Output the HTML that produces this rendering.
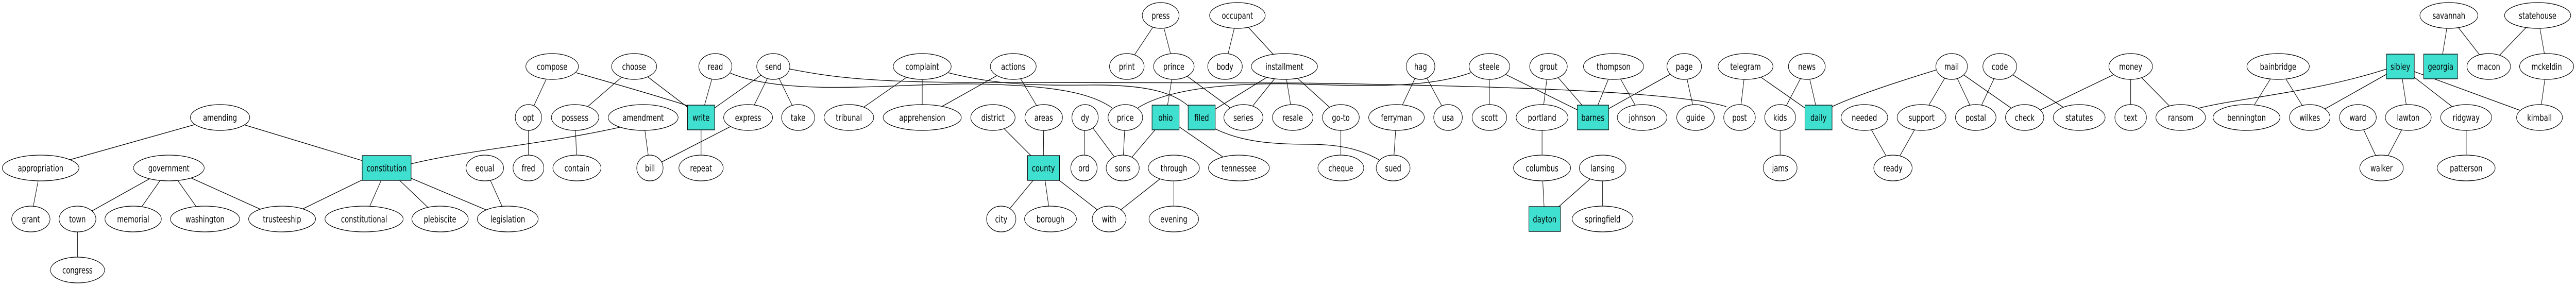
<!DOCTYPE html>
<html><head><meta charset="utf-8"><style>
html,body{margin:0;padding:0;background:#fff;width:100%;height:100%;overflow:hidden;}
svg{display:block;width:100vw;height:100vh}
ellipse,rect{stroke:#000;stroke-width:1.3}
ellipse{fill:#fff}
rect{fill:#40E0D0}
text{font-family:"DejaVu Sans","Liberation Sans",sans-serif;font-size:18px;text-anchor:middle;dominant-baseline:central;fill:#000}
line,path{stroke:#000;stroke-width:1.3;fill:none}
</style></head><body>
<svg viewBox="0 0 6849 555" preserveAspectRatio="none" xmlns="http://www.w3.org/2000/svg">
<g>
<line x1="585" y1="228" x2="108" y2="326"/>
<line x1="585" y1="228" x2="1028" y2="326"/>
<line x1="108" y1="326" x2="82" y2="425"/>
<line x1="449" y1="326" x2="206" y2="425"/>
<line x1="449" y1="326" x2="354" y2="425"/>
<line x1="449" y1="326" x2="545" y2="425"/>
<line x1="449" y1="326" x2="750" y2="425"/>
<line x1="206" y1="425" x2="206" y2="524"/>
<line x1="1028" y1="326" x2="750" y2="425"/>
<line x1="1028" y1="326" x2="968" y2="425"/>
<line x1="1028" y1="326" x2="1170" y2="425"/>
<line x1="1028" y1="326" x2="1350" y2="425"/>
<line x1="1289" y1="326" x2="1350" y2="425"/>
<line x1="1468" y1="129" x2="1405" y2="228"/>
<line x1="1686" y1="129" x2="1529" y2="228"/>
<line x1="1686" y1="129" x2="1864" y2="228"/>
<line x1="1902" y1="129" x2="1864" y2="228"/>
<line x1="2056" y1="129" x2="1864" y2="228"/>
<line x1="2056" y1="129" x2="1989" y2="228"/>
<line x1="2056" y1="129" x2="2122" y2="228"/>
<line x1="1405" y1="228" x2="1405" y2="326"/>
<line x1="1529" y1="228" x2="1534" y2="326"/>
<line x1="1710" y1="228" x2="1728" y2="326"/>
<line x1="1989" y1="228" x2="1728" y2="326"/>
<line x1="1864" y1="228" x2="1864" y2="326"/>
<line x1="2452" y1="129" x2="2257" y2="228"/>
<line x1="2452" y1="129" x2="2452" y2="228"/>
<line x1="2694" y1="129" x2="2452" y2="228"/>
<line x1="2694" y1="129" x2="2775" y2="228"/>
<line x1="3086" y1="30" x2="2996" y2="129"/>
<line x1="3086" y1="30" x2="3121" y2="129"/>
<line x1="3290" y1="30" x2="3257" y2="129"/>
<line x1="3290" y1="30" x2="3415" y2="129"/>
<line x1="3121" y1="129" x2="3099" y2="228"/>
<line x1="3121" y1="129" x2="3306" y2="228"/>
<line x1="3415" y1="129" x2="3195" y2="228"/>
<line x1="3415" y1="129" x2="3306" y2="228"/>
<line x1="3415" y1="129" x2="3437" y2="228"/>
<line x1="3415" y1="129" x2="3565" y2="228"/>
<line x1="2640" y1="228" x2="2774" y2="326"/>
<line x1="2775" y1="228" x2="2774" y2="326"/>
<line x1="2885" y1="228" x2="2882" y2="326"/>
<line x1="2885" y1="228" x2="2985" y2="326"/>
<line x1="2992" y1="228" x2="2985" y2="326"/>
<line x1="3099" y1="228" x2="2985" y2="326"/>
<line x1="3099" y1="228" x2="3294" y2="326"/>
<line x1="2774" y1="326" x2="2662" y2="425"/>
<line x1="2774" y1="326" x2="2793" y2="425"/>
<line x1="2774" y1="326" x2="2949" y2="425"/>
<line x1="3121" y1="326" x2="2949" y2="425"/>
<line x1="3121" y1="326" x2="3121" y2="425"/>
<line x1="3777" y1="129" x2="3713" y2="228"/>
<line x1="3777" y1="129" x2="3850" y2="228"/>
<line x1="3960" y1="129" x2="3960" y2="228"/>
<line x1="3960" y1="129" x2="4235" y2="228"/>
<line x1="4117" y1="129" x2="4100" y2="228"/>
<line x1="4117" y1="129" x2="4235" y2="228"/>
<line x1="4290" y1="129" x2="4235" y2="228"/>
<line x1="4290" y1="129" x2="4366" y2="228"/>
<line x1="4478" y1="129" x2="4235" y2="228"/>
<line x1="4478" y1="129" x2="4508" y2="228"/>
<line x1="3565" y1="228" x2="3565" y2="326"/>
<line x1="3713" y1="228" x2="3704" y2="326"/>
<line x1="4100" y1="228" x2="4100" y2="326"/>
<line x1="4100" y1="326" x2="4107" y2="425"/>
<line x1="4261" y1="326" x2="4107" y2="425"/>
<line x1="4261" y1="326" x2="4261" y2="425"/>
<line x1="4641" y1="129" x2="4625" y2="228"/>
<line x1="4641" y1="129" x2="4835" y2="228"/>
<line x1="4804" y1="129" x2="4733" y2="228"/>
<line x1="4804" y1="129" x2="4835" y2="228"/>
<line x1="4733" y1="228" x2="4733" y2="326"/>
<line x1="5189" y1="129" x2="5109" y2="228"/>
<line x1="5189" y1="129" x2="5253" y2="228"/>
<line x1="5189" y1="129" x2="5383" y2="228"/>
<line x1="5317" y1="129" x2="5253" y2="228"/>
<line x1="5317" y1="129" x2="5528" y2="228"/>
<line x1="5665" y1="129" x2="5383" y2="228"/>
<line x1="5665" y1="129" x2="5665" y2="228"/>
<line x1="5665" y1="129" x2="5798" y2="228"/>
<line x1="4957" y1="228" x2="5033" y2="326"/>
<line x1="5109" y1="228" x2="5033" y2="326"/>
<line x1="6057" y1="129" x2="5973" y2="228"/>
<line x1="6057" y1="129" x2="6141" y2="228"/>
<line x1="6382" y1="129" x2="6141" y2="228"/>
<line x1="6382" y1="129" x2="6403" y2="228"/>
<line x1="6382" y1="129" x2="6557" y2="228"/>
<line x1="6382" y1="129" x2="6752" y2="228"/>
<line x1="6511" y1="30" x2="6489" y2="129"/>
<line x1="6511" y1="30" x2="6617" y2="129"/>
<line x1="6747" y1="30" x2="6617" y2="129"/>
<line x1="6747" y1="30" x2="6771" y2="129"/>
<line x1="6771" y1="129" x2="6752" y2="228"/>
<line x1="6269" y1="228" x2="6332" y2="326"/>
<line x1="6403" y1="228" x2="6332" y2="326"/>
<line x1="6557" y1="228" x2="6557" y2="326"/>
<path d="M1093,318 C1250,290 1450,280 1660,245"/>
<path d="M1531,141 Q1720,180 1828,205"/>
<path d="M1942,142 C2100,190 2400,160 2600,163 S2900,180 2956,209"/>
<path d="M2100,134 C2200,148 2300,160 2600,160 L3450,161 C3900,166 4450,175 4590,207"/>
<path d="M2520,141 C2650,165 2750,166 2900,165 S3120,180 3160,206"/>
<path d="M3026,209 C3100,175 3250,160 3450,163 C3650,168 3800,170 3911,141"/>
<path d="M3231,250 C3300,275 3380,280 3480,280 S3630,295 3666,310"/>
<path d="M5147,136 Q4950,180 4871,207"/>
<path d="M6345,134 C6150,180 5950,190 5840,211"/>
</g>
<g>
<ellipse cx="3086" cy="30" rx="49" ry="25"/><text x="3086" y="30">press</text>
<ellipse cx="3290" cy="30" rx="74" ry="25"/><text x="3290" y="30">occupant</text>
<ellipse cx="6511" cy="30" rx="77" ry="25"/><text x="6511" y="30">savannah</text>
<ellipse cx="6747" cy="30" rx="88" ry="25"/><text x="6747" y="30">statehouse</text>
<ellipse cx="1468" cy="129" rx="70" ry="25"/><text x="1468" y="129">compose</text>
<ellipse cx="1686" cy="129" rx="60" ry="25"/><text x="1686" y="129">choose</text>
<ellipse cx="1902" cy="129" rx="44" ry="25"/><text x="1902" y="129">read</text>
<ellipse cx="2056" cy="129" rx="44" ry="25"/><text x="2056" y="129">send</text>
<ellipse cx="2452" cy="129" rx="77" ry="25"/><text x="2452" y="129">complaint</text>
<ellipse cx="2694" cy="129" rx="61" ry="25"/><text x="2694" y="129">actions</text>
<ellipse cx="2996" cy="129" rx="46" ry="25"/><text x="2996" y="129">print</text>
<ellipse cx="3121" cy="129" rx="54" ry="25"/><text x="3121" y="129">prince</text>
<ellipse cx="3257" cy="129" rx="46" ry="25"/><text x="3257" y="129">body</text>
<ellipse cx="3415" cy="129" rx="88" ry="25"/><text x="3415" y="129">installment</text>
<ellipse cx="3777" cy="129" rx="38" ry="25"/><text x="3777" y="129">hag</text>
<ellipse cx="3960" cy="129" rx="54" ry="25"/><text x="3960" y="129">steele</text>
<ellipse cx="4117" cy="129" rx="50" ry="25"/><text x="4117" y="129">grout</text>
<ellipse cx="4290" cy="129" rx="80" ry="25"/><text x="4290" y="129">thompson</text>
<ellipse cx="4478" cy="129" rx="46" ry="25"/><text x="4478" y="129">page</text>
<ellipse cx="4641" cy="129" rx="73" ry="25"/><text x="4641" y="129">telegram</text>
<ellipse cx="4804" cy="129" rx="49" ry="25"/><text x="4804" y="129">news</text>
<ellipse cx="5189" cy="129" rx="42" ry="25"/><text x="5189" y="129">mail</text>
<ellipse cx="5317" cy="129" rx="45" ry="25"/><text x="5317" y="129">code</text>
<ellipse cx="5665" cy="129" rx="58" ry="25"/><text x="5665" y="129">money</text>
<ellipse cx="6057" cy="129" rx="83" ry="25"/><text x="6057" y="129">bainbridge</text>
<rect x="6345" y="105" width="74" height="48"/><text x="6382" y="129">sibley</text>
<rect x="6444" y="105" width="90" height="48"/><text x="6489" y="129">georgia</text>
<ellipse cx="6617" cy="129" rx="58" ry="25"/><text x="6617" y="129">macon</text>
<ellipse cx="6771" cy="129" rx="72" ry="25"/><text x="6771" y="129">mckeldin</text>
<ellipse cx="585" cy="228" rx="79" ry="25"/><text x="585" y="228">amending</text>
<ellipse cx="1405" cy="228" rx="35" ry="25"/><text x="1405" y="228">opt</text>
<ellipse cx="1529" cy="228" rx="63" ry="25"/><text x="1529" y="228">possess</text>
<ellipse cx="1710" cy="228" rx="93" ry="25"/><text x="1710" y="228">amendment</text>
<rect x="1828" y="204" width="72" height="48"/><text x="1864" y="228">write</text>
<ellipse cx="1989" cy="228" rx="65" ry="25"/><text x="1989" y="228">express</text>
<ellipse cx="2122" cy="228" rx="44" ry="25"/><text x="2122" y="228">take</text>
<ellipse cx="2257" cy="228" rx="66" ry="25"/><text x="2257" y="228">tribunal</text>
<ellipse cx="2452" cy="228" rx="104" ry="25"/><text x="2452" y="228">apprehension</text>
<ellipse cx="2640" cy="228" rx="59" ry="25"/><text x="2640" y="228">district</text>
<ellipse cx="2775" cy="228" rx="50" ry="25"/><text x="2775" y="228">areas</text>
<ellipse cx="2885" cy="228" rx="35" ry="25"/><text x="2885" y="228">dy</text>
<ellipse cx="2992" cy="228" rx="46" ry="25"/><text x="2992" y="228">price</text>
<rect x="3063" y="204" width="72" height="48"/><text x="3099" y="228">ohio</text>
<rect x="3159" y="204" width="72" height="48"/><text x="3195" y="228">filed</text>
<ellipse cx="3306" cy="228" rx="52" ry="25"/><text x="3306" y="228">series</text>
<ellipse cx="3437" cy="228" rx="54" ry="25"/><text x="3437" y="228">resale</text>
<ellipse cx="3565" cy="228" rx="49" ry="25"/><text x="3565" y="228">go-to</text>
<ellipse cx="3713" cy="228" rx="74" ry="25"/><text x="3713" y="228">ferryman</text>
<ellipse cx="3850" cy="228" rx="38" ry="25"/><text x="3850" y="228">usa</text>
<ellipse cx="3960" cy="228" rx="46" ry="25"/><text x="3960" y="228">scott</text>
<ellipse cx="4100" cy="228" rx="69" ry="25"/><text x="4100" y="228">portland</text>
<rect x="4194" y="204" width="83" height="48"/><text x="4235" y="228">barnes</text>
<ellipse cx="4366" cy="228" rx="66" ry="25"/><text x="4366" y="228">johnson</text>
<ellipse cx="4508" cy="228" rx="50" ry="25"/><text x="4508" y="228">guide</text>
<ellipse cx="4625" cy="228" rx="42" ry="25"/><text x="4625" y="228">post</text>
<ellipse cx="4733" cy="228" rx="41" ry="25"/><text x="4733" y="228">kids</text>
<rect x="4799" y="204" width="72" height="48"/><text x="4835" y="228">daily</text>
<ellipse cx="4957" cy="228" rx="62" ry="25"/><text x="4957" y="228">needed</text>
<ellipse cx="5109" cy="228" rx="65" ry="25"/><text x="5109" y="228">support</text>
<ellipse cx="5253" cy="228" rx="54" ry="25"/><text x="5253" y="228">postal</text>
<ellipse cx="5383" cy="228" rx="51" ry="25"/><text x="5383" y="228">check</text>
<ellipse cx="5528" cy="228" rx="69" ry="25"/><text x="5528" y="228">statutes</text>
<ellipse cx="5665" cy="228" rx="42" ry="25"/><text x="5665" y="228">text</text>
<ellipse cx="5798" cy="228" rx="66" ry="25"/><text x="5798" y="228">ransom</text>
<ellipse cx="5973" cy="228" rx="89" ry="25"/><text x="5973" y="228">bennington</text>
<ellipse cx="6141" cy="228" rx="54" ry="25"/><text x="6141" y="228">wilkes</text>
<ellipse cx="6269" cy="228" rx="49" ry="25"/><text x="6269" y="228">ward</text>
<ellipse cx="6403" cy="228" rx="61" ry="25"/><text x="6403" y="228">lawton</text>
<ellipse cx="6557" cy="228" rx="68" ry="25"/><text x="6557" y="228">ridgway</text>
<ellipse cx="6752" cy="228" rx="61" ry="25"/><text x="6752" y="228">kimball</text>
<ellipse cx="108" cy="326" rx="102" ry="25"/><text x="108" y="326">appropriation</text>
<ellipse cx="449" cy="326" rx="94" ry="25"/><text x="449" y="326">government</text>
<rect x="963" y="302" width="130" height="48"/><text x="1028" y="326">constitution</text>
<ellipse cx="1289" cy="326" rx="50" ry="25"/><text x="1289" y="326">equal</text>
<ellipse cx="1405" cy="326" rx="41" ry="25"/><text x="1405" y="326">fred</text>
<ellipse cx="1534" cy="326" rx="64" ry="25"/><text x="1534" y="326">contain</text>
<ellipse cx="1728" cy="326" rx="35" ry="25"/><text x="1728" y="326">bill</text>
<ellipse cx="1864" cy="326" rx="59" ry="25"/><text x="1864" y="326">repeat</text>
<rect x="2732" y="302" width="85" height="48"/><text x="2774" y="326">county</text>
<ellipse cx="2882" cy="326" rx="35" ry="25"/><text x="2882" y="326">ord</text>
<ellipse cx="2985" cy="326" rx="44" ry="25"/><text x="2985" y="326">sons</text>
<ellipse cx="3121" cy="326" rx="68" ry="25"/><text x="3121" y="326">through</text>
<ellipse cx="3294" cy="326" rx="81" ry="25"/><text x="3294" y="326">tennessee</text>
<ellipse cx="3565" cy="326" rx="61" ry="25"/><text x="3565" y="326">cheque</text>
<ellipse cx="3704" cy="326" rx="45" ry="25"/><text x="3704" y="326">sued</text>
<ellipse cx="4100" cy="326" rx="76" ry="25"/><text x="4100" y="326">columbus</text>
<ellipse cx="4261" cy="326" rx="62" ry="25"/><text x="4261" y="326">lansing</text>
<ellipse cx="4733" cy="326" rx="45" ry="25"/><text x="4733" y="326">jams</text>
<ellipse cx="5033" cy="326" rx="51" ry="25"/><text x="5033" y="326">ready</text>
<ellipse cx="6332" cy="326" rx="58" ry="25"/><text x="6332" y="326">walker</text>
<ellipse cx="6557" cy="326" rx="77" ry="25"/><text x="6557" y="326">patterson</text>
<ellipse cx="82" cy="425" rx="51" ry="25"/><text x="82" y="425">grant</text>
<ellipse cx="206" cy="425" rx="49" ry="25"/><text x="206" y="425">town</text>
<ellipse cx="354" cy="425" rx="75" ry="25"/><text x="354" y="425">memorial</text>
<ellipse cx="545" cy="425" rx="92" ry="25"/><text x="545" y="425">washington</text>
<ellipse cx="750" cy="425" rx="89" ry="25"/><text x="750" y="425">trusteeship</text>
<ellipse cx="968" cy="425" rx="104" ry="25"/><text x="968" y="425">constitutional</text>
<ellipse cx="1170" cy="425" rx="75" ry="25"/><text x="1170" y="425">plebiscite</text>
<ellipse cx="1350" cy="425" rx="81" ry="25"/><text x="1350" y="425">legislation</text>
<ellipse cx="2662" cy="425" rx="39" ry="25"/><text x="2662" y="425">city</text>
<ellipse cx="2793" cy="425" rx="69" ry="25"/><text x="2793" y="425">borough</text>
<ellipse cx="2949" cy="425" rx="45" ry="25"/><text x="2949" y="425">with</text>
<ellipse cx="3121" cy="425" rx="66" ry="25"/><text x="3121" y="425">evening</text>
<rect x="4065" y="401" width="84" height="48"/><text x="4107" y="425">dayton</text>
<ellipse cx="4261" cy="425" rx="81" ry="25"/><text x="4261" y="425">springfield</text>
<ellipse cx="206" cy="524" rx="72" ry="25"/><text x="206" y="524">congress</text>
</g>
</svg>
</body></html>
